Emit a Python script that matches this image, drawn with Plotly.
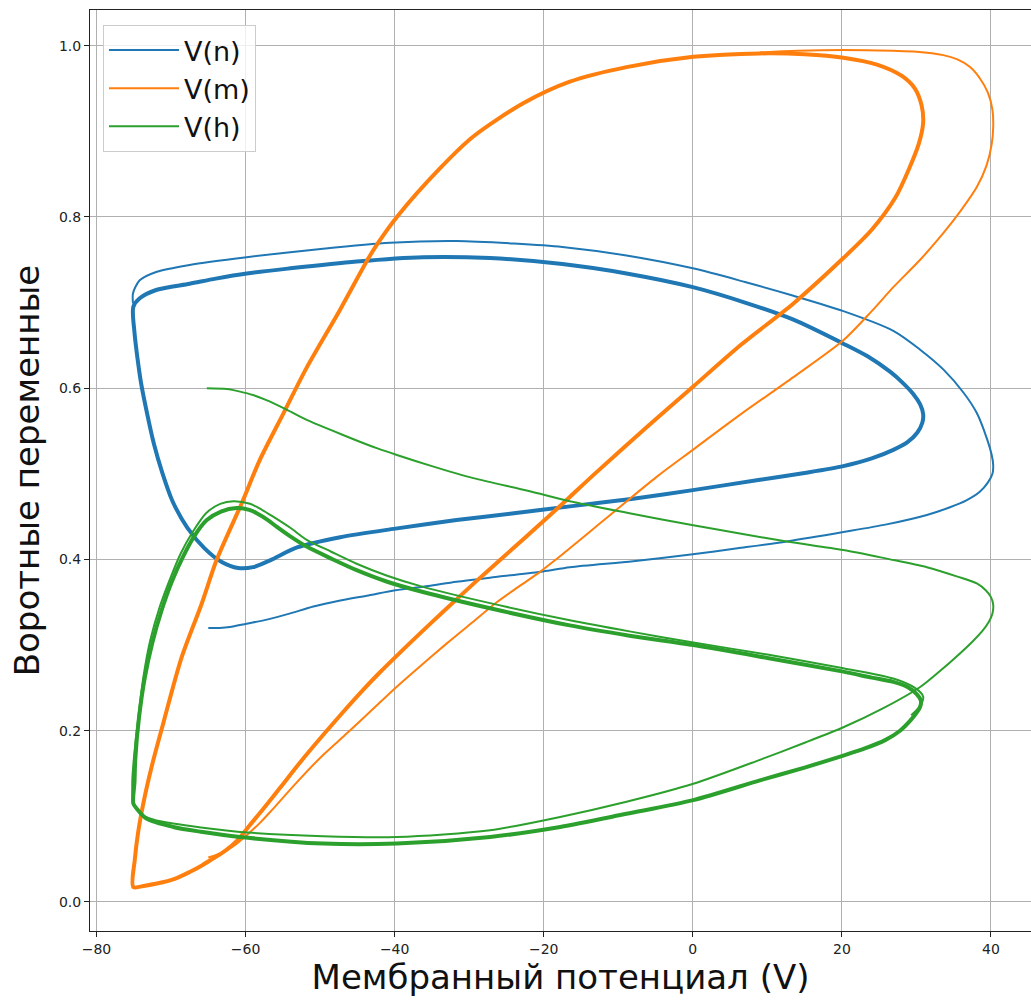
import plotly.graph_objects as go

# ---------------- data ----------------
# V(n): first (transient) pass
n_tr_V = [-65.0, -63.5, -62.1, -59.85, -57.0, -54.0, -50.9, -47.3, -43.5, -39.9, -35.5, -31.7, -26.0, -20.1,
          -16.5, -8.0, 0.0, 6.0, 12.6, 20.2, 26.0, 31.4, 34.5, 36.7, 38.5, 39.6, 40.2, 40.3, 40.1, 39.5, 38.1,
          36.3, 33.6, 30.5, 26.9, 20.2, 13.5, 7.0, 0.0, -8.9, -17.5, -24.0, -31.7, -40.6, -49.6, -59.85, -67.5,
          -71.9, -74.2, -75.1, -75.1]
n_tr = [0.320, 0.320, 0.321, 0.325, 0.330, 0.337, 0.345, 0.352, 0.358, 0.364, 0.369, 0.374, 0.380, 0.386,
        0.391, 0.398, 0.406, 0.413, 0.421, 0.432, 0.441, 0.452, 0.461, 0.469, 0.479, 0.490, 0.500, 0.510, 0.522,
        0.540, 0.571, 0.595, 0.622, 0.645, 0.667, 0.690, 0.708, 0.724, 0.740, 0.755, 0.765, 0.769, 0.772,
        0.770, 0.763, 0.753, 0.744, 0.736, 0.726, 0.711, 0.699]
# V(n): limit cycle
n_cy_V = [-75.06, -74.9, -74.5, -74.0, -73.2, -72.3, -71.2, -69.8, -67.8, -65.5, -63.2, -61.0, -59.0, -56.7,
          -53.1, -47.3, -39.9, -31.7, -24.0, -16.5, -8.0, 0.0, 9.0, 15.0, 20.2, 24.0, 26.9, 28.8, 30.1, 30.8,
          30.9, 30.5, 29.6, 28.2, 26.5, 23.5, 20.2, 13.5, 7.0, 0.0, -8.9, -17.5, -27.2, -36.2, -45.1, -54.0,
          -59.85, -64.0, -67.5, -71.9, -74.2, -75.06]
n_cy = [0.695, 0.665, 0.635, 0.605, 0.570, 0.535, 0.502, 0.468, 0.437, 0.413, 0.397, 0.390, 0.391, 0.399,
        0.414, 0.426, 0.436, 0.446, 0.454, 0.462, 0.471, 0.481, 0.493, 0.501, 0.509, 0.518, 0.528, 0.537, 0.548,
        0.560, 0.570, 0.581, 0.593, 0.606, 0.619, 0.637, 0.652, 0.680, 0.700, 0.718, 0.734, 0.745, 0.752,
        0.753, 0.748, 0.740, 0.734, 0.728, 0.722, 0.715, 0.705, 0.695]

# V(m): first pass
m_tr_V = [-65.0, -63.0, -61.5, -59.85, -58.0, -56.5, -53.1, -49.8, -46.4, -43.2, -39.9, -36.5, -33.0, -29.5,
          -26.3, -23.4, -20.5, -18.5, -11.5, -4.85, 0.0, 6.5, 13.5, 20.2, 24.0, 26.9, 30.5, 33.6, 36.0, 38.1,
          39.4, 40.1, 40.3, 40.2, 39.6, 38.5, 37.2, 35.5, 33.6, 30.0, 26.9, 20.2, 14.0, 9.0]
m_tr = [0.052, 0.058, 0.066, 0.078, 0.093, 0.107, 0.140, 0.170, 0.197, 0.223, 0.250, 0.276, 0.302, 0.327,
        0.350, 0.368, 0.3855, 0.399, 0.449, 0.4965, 0.528, 0.570, 0.613, 0.656, 0.690, 0.718, 0.750, 0.781,
        0.808, 0.835, 0.860, 0.885, 0.905, 0.925, 0.945, 0.962, 0.975, 0.984, 0.989, 0.993, 0.994, 0.995,
        0.994, 0.992]
# V(m): limit cycle
m_cy_V = [-75.06, -73.5, -71.9, -69.5, -67.5, -65.8, -64.3, -62.7, -61.2, -59.5, -57.5, -55.4, -52.5, -49.6,
          -47.0, -44.2, -42.0, -39.9, -36.8, -33.5, -29.0, -25.9, -22.7, -19.5, -16.5, -13.35, -6.5, 0.06, 6.5,
          13.5, 20.2, 24.0, 27.2, 29.0, 30.3, 30.9, 30.7, 29.8, 28.0, 24.7, 20.2, 15.0, 9.0, 0.06, -8.9, -16.5,
          -22.7, -29.45, -33.9, -39.7, -42.2, -43.5, -47.3, -51.8, -54.9, -58.1, -60.5, -63.9, -65.9, -68.6,
          -71.0, -72.6, -73.6, -74.4, -74.85, -75.06]
m_cy = [0.0175, 0.019, 0.0215, 0.027, 0.035, 0.043, 0.051, 0.060, 0.071, 0.089, 0.110, 0.133, 0.165, 0.195,
        0.221, 0.248, 0.268, 0.286, 0.312, 0.339, 0.375, 0.399, 0.424, 0.449, 0.473, 0.4985, 0.552, 0.602,
        0.651, 0.699, 0.752, 0.785, 0.823, 0.856, 0.885, 0.910, 0.930, 0.950, 0.965, 0.978, 0.986, 0.990,
        0.991, 0.987, 0.975, 0.958, 0.933, 0.894, 0.857, 0.800, 0.770, 0.752, 0.692, 0.624, 0.571, 0.516,
        0.466, 0.399, 0.348, 0.285, 0.210, 0.158, 0.120, 0.082, 0.050, 0.0175]

# V(h): first pass (incl. slightly offset second loop)
h_tr_V = [-65.2, -62.5, -60.75, -59.0, -57.2, -54.5, -51.8, -48.5, -45.1, -42.4, -39.7, -35.0, -29.45, -22.0,
          -16.5, -8.5, 0.06, 6.5, 12.6, 20.2, 26.0, 31.4, 35.5, 38.1, 39.3, 40.0, 40.3, 40.2, 39.7, 38.8, 37.5,
          35.8, 33.2, 30.5, 25.5, 20.2, 15.0, 9.0, 0.06, -8.9, -17.8, -27.2, -39.7, -49.6, -60.75, -66.0, -69.7,
          -72.3, -73.7, -74.6, -75.1, -75.2, -75.0, -74.4, -73.7, -72.8, -71.5, -70.1, -68.7, -67.1, -65.3,
          -63.4, -61.6, -59.4, -57.8, -56.3, -54.0, -51.8, -48.5, -45.1, -41.0, -36.2, -27.2, -16.5, -8.5, 0.06,
          10.0, 20.2, 26.9, 29.8, 30.9, 30.6, 29.3]
h_tr = [0.600, 0.599, 0.596, 0.592, 0.586, 0.575, 0.563, 0.551, 0.539, 0.530, 0.522, 0.509, 0.495, 0.480,
        0.468, 0.454, 0.440, 0.430, 0.421, 0.411, 0.401, 0.391, 0.380, 0.372, 0.364, 0.356, 0.347, 0.337, 0.327,
        0.316, 0.304, 0.290, 0.270, 0.251, 0.226, 0.204, 0.186, 0.166, 0.138, 0.117, 0.0993, 0.0838, 0.0759,
        0.0768, 0.0818, 0.087, 0.0916, 0.096, 0.101, 0.108, 0.118, 0.140, 0.166, 0.215, 0.263, 0.305, 0.345,
        0.378, 0.407, 0.432, 0.454, 0.465, 0.468, 0.465, 0.458, 0.450, 0.437, 0.423, 0.409, 0.395, 0.381,
        0.368, 0.349, 0.329, 0.316, 0.303, 0.289, 0.273, 0.261, 0.250, 0.240, 0.230, 0.218]
# V(h): limit cycle
h_cy_V = [-75.06, -74.9, -74.8, -74.3, -73.5, -72.5, -71.25, -69.9, -68.4, -66.9, -65.2, -63.3, -61.2, -59.5,
          -58.5, -57.0, -55.8, -54.0, -51.8, -48.5, -45.1, -41.0, -36.2, -27.2, -16.5, -8.5, 0.06, 10.0, 20.2,
          24.0, 26.9, 28.8, 30.0, 30.6, 30.5, 30.1, 29.2, 27.8, 25.8, 23.0, 20.2, 15.0, 9.0, 0.06, -8.9, -17.8,
          -27.2, -39.7, -49.6, -60.75, -66.0, -69.7, -73.3, -74.6, -75.06]
h_cy = [0.115, 0.140, 0.166, 0.215, 0.263, 0.303, 0.341, 0.374, 0.403, 0.427, 0.446, 0.456, 0.460, 0.458,
        0.454, 0.446, 0.438, 0.427, 0.415, 0.401, 0.3875, 0.374, 0.362, 0.343, 0.323, 0.311, 0.300, 0.285,
        0.269, 0.262, 0.257, 0.251, 0.243, 0.235, 0.228, 0.222, 0.212, 0.200, 0.189, 0.179, 0.171, 0.157,
        0.142, 0.119, 0.103, 0.0876, 0.0759, 0.0682, 0.0682, 0.0759, 0.082, 0.0876, 0.0974, 0.109, 0.115]

names = ["V(n)", "V(m)", "V(h)"]
colors = ["#1f77b4", "#ff7f0e", "#2ca02c"]
x_ticks = [-80, -60, -40, -20, 0, 20, 40]
y_ticks = [0.0, 0.2, 0.4, 0.6, 0.8, 1.0]

# ---------------- figure ----------------
series = [(n_tr_V, n_tr, n_cy_V, n_cy), (m_tr_V, m_tr, m_cy_V, m_cy), (h_tr_V, h_tr, h_cy_V, h_cy)]
fig = go.Figure()
for (tv, ty, cv, cy), name, col in zip(series, names, colors):
    fig.add_trace(go.Scatter(x=tv, y=ty, mode="lines", name=name, legendgroup=name,
                             line=dict(color=col, width=2, shape="spline", smoothing=0.8)))
    fig.add_trace(go.Scatter(x=cv, y=cy, mode="lines", name=name, legendgroup=name, showlegend=False,
                             line=dict(color=col, width=4, shape="spline", smoothing=0.8)))

axis_common = dict(showgrid=True, gridcolor="#b0b0b0", gridwidth=1, zeroline=False,
                   showline=True, linecolor="#222222", linewidth=1, mirror=True,
                   ticks="outside", ticklen=5, tickwidth=1, tickcolor="#222222",
                   tickfont=dict(size=14, color="#222222", family="DejaVu Sans"))

fig.update_layout(
    width=1031, height=1001,
    margin=dict(l=90, r=0, t=10, b=70),
    plot_bgcolor="white", paper_bgcolor="white",
    font=dict(family="DejaVu Sans", color="#111111"),
    xaxis=dict(range=[-80.87, 45.37], tickvals=x_ticks,
               title=dict(text="Мембранный потенциал (V)", font=dict(size=34), standoff=9),
               **axis_common),
    yaxis=dict(range=[-0.0339, 1.0417], tickvals=y_ticks, tickformat=".1f",
               title=dict(text="Воротные переменные", font=dict(size=34), standoff=9),
               **axis_common),
    legend=dict(x=0.0138, y=0.9837, xanchor="left", yanchor="top",
                bgcolor="rgba(255,255,255,0.8)", bordercolor="#cccccc", borderwidth=1,
                font=dict(size=27, color="#111111"), itemwidth=70, tracegroupgap=0),
    showlegend=True,
)

fig.write_html("out.html", config={"displayModeBar": False},
               post_script="document.body.style.margin='0';")
